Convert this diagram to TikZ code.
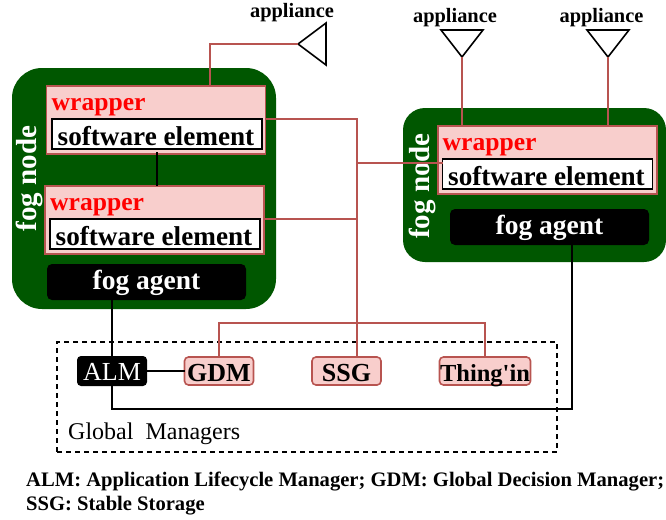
\documentclass[tikz,border=0pt]{standalone}
\usepackage{fontspec}
\setmainfont{Liberation Serif}
\newfontfamily\plainserif{Liberation Serif}
\definecolor{fogg}{HTML}{005700}
\definecolor{pinkf}{HTML}{F8CECC}
\definecolor{pinkd}{HTML}{B85450}
\tikzset{
  x=1pt,y=-1pt,
  box/.style args={#1/#2}{minimum width=#1pt,minimum height=#2pt,inner sep=0pt,outer sep=0pt,anchor=center},
  fogbox/.style={fill=fogg,draw=none,rounded corners=30pt},
  fogboxr/.style={fill=fogg,draw=none,rounded corners=22pt},
  wrapbox/.style={fill=pinkf,draw=pinkd,line width=1.8pt},
  softbox/.style={fill=white,draw=black,line width=1.8pt,text height=22pt,text depth=0pt,font=\fontsize{27.2}{27.2}\selectfont\bfseries},
  wraptext/.style={text=red,font=\fontsize{25.6}{25.6}\selectfont\bfseries,anchor=base west,inner sep=0pt},
  agentbox/.style={fill=black,text=white,rounded corners=5pt,text height=15pt,text depth=0pt,font=\fontsize{27.5}{27.5}\selectfont\bfseries},
  mgrbox/.style={fill=pinkf,draw=pinkd,line width=1.6pt,rounded corners=4pt,text height=20pt,text depth=0pt,font=\fontsize{26}{26}\selectfont\bfseries},
  almbox/.style={fill=black,text=white,rounded corners=4pt,text height=19pt,text depth=0pt,font=\fontsize{26}{26}\selectfont},
  fogtext/.style={text=white,font=\fontsize{29}{29}\selectfont\bfseries,rotate=90,inner sep=0pt,anchor=base},
  applabel/.style={font=\fontsize{20.4}{20.4}\selectfont\bfseries,inner sep=0pt,anchor=base},
  legend/.style={font=\fontsize{20.6}{20.6}\selectfont\bfseries,inner sep=0pt,anchor=base west},
  redline/.style={draw=pinkd,line width=1.7pt},
  blackline/.style={draw=black,line width=1.7pt},
  tri/.style={draw=black,line width=1.6pt,fill=white,line join=miter},
  dashbox/.style={draw=black,line width=1.4pt,dash pattern=on 5pt off 4pt,fill=none},
}
\begin{document}
\begin{tikzpicture}
\useasboundingbox (0,0) rectangle (666,519);
% appliance triangles
\coordinate (apA) at (298,44);
\coordinate (apB) at (462,57);
\coordinate (apC) at (608,57);
\draw[tri] (apA) -- (326,23) -- (326,65) -- cycle;
\draw[tri] (apB) -- (441,30) -- (483,30) -- cycle;
\draw[tri] (apC) -- (587,30) -- (629,30) -- cycle;
\node[applabel] (lapA) at (292,18) {appliance};
\node[applabel] (lapB) at (455,23) {appliance};
\node[applabel] (lapC) at (601.5,23) {appliance};
% fog nodes
\node[box=264/241,fogbox] (fogL) at (144,188.5) {};
\node[box=263/154,fogboxr] (fogR) at (534.5,185) {};
\node[fogtext] (fogLt) at (36,178.5) {fog node};
\node[fogtext] (fogRt) at (429,186) {fog node};
% wrappers
\node[box=219/68,wrapbox] (w1) at (156,120) {};
\node[box=219/68,wrapbox] (w2) at (154.5,220) {};
\node[box=219/68,wrapbox] (w3) at (547.5,160) {};
\node[box=210/30,softbox] (s1) at (157,134) {\hspace*{-2pt}software element};
\node[box=210/30,softbox] (s2) at (155,234) {\hspace*{-2pt}software element};
\node[box=210/30,softbox] (s3) at (547.5,174) {\hspace*{-2pt}software element};
\node[wraptext] (t1) at (51.5,110) {wrapper};
\node[wraptext] (t2) at (50,210) {wrapper};
\node[wraptext] (t3) at (442.5,150) {wrapper};
% agents
\node[box=199/36,agentbox] (agL) at (146.5,282) {fog agent};
\node[box=199/36,agentbox] (agR) at (549.5,227) {fog agent};
% global managers
\node[box=500/110,dashbox] (gm) at (307,397) {};
\node[inner sep=0pt,anchor=base west,font=\fontsize{24}{24}\selectfont] (gmt) at (68,439) {Global\ \ Managers};
\node[box=70/30,almbox] (alm) at (112,371) {ALM};
\node[box=69/28,mgrbox] (gdm) at (219,371) {GDM};
\node[box=69/28,mgrbox] (ssg) at (346.5,371) {SSG};
\node[box=91/28,mgrbox,font=\fontsize{24.5}{24.5}\plainserif\bfseries] (thing) at (485,371) {Thing'in};
% junctions
\coordinate (busA) at (357,119);
\coordinate (busB) at (357,219);
\coordinate (busC) at (357,163);
\coordinate (busD) at (357,323);
% connectors
\draw[redline] (w1.north -| 210,0) -- (210,44) -- (apA);
\draw[redline] (apB) -- (apB |- w3.north);
\draw[redline] (apC) -- (apC |- w3.north);
\draw[redline] (w1.east |- busA) -- (busA) -- (busD) -- (busD |- ssg.north);
\draw[redline] (w2.east |- busB) -- (busB);
\draw[redline] (busC) -- (s3.west |- busC);
\draw[redline] (gdm.north) -- (gdm.north |- busD) -- (thing.north |- busD) -- (thing.north);
\draw[blackline] (s1.south -| 157,0) ++(0,3) -- (w2.north -| 157,0);
\draw[blackline] (alm.north) -- (alm.north |- agL.south);
\draw[blackline] (alm.east) -- (gdm.west);
\draw[blackline] (alm.south) -- (112,409) -- (572,409) -- (572,245);
% legend
\node[legend] (lg1) at (26,486) {ALM: Application Lifecycle Manager; GDM: Global Decision Manager;};
\node[legend] (lg2) at (26,510) {SSG: Stable Storage};
\end{tikzpicture}
\end{document}
